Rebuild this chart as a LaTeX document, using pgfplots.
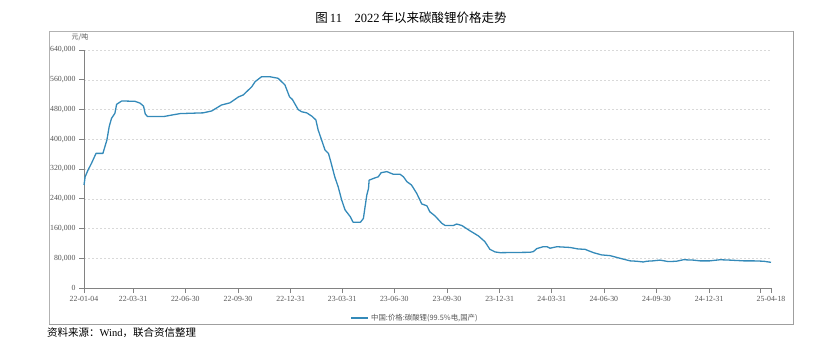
\documentclass[border=0pt]{standalone}
\usepackage{pgfplots}
\pgfplotsset{compat=1.18}
\usepackage{fontspec}
\setmainfont{Liberation Serif}
\newfontfamily\cjk{Noto Sans CJK SC}
\definecolor{lineblue}{RGB}{52,138,185}
\definecolor{axgray}{RGB}{130,130,130}
\definecolor{txtgray}{RGB}{85,85,85}
\pgfplotstableread{
x y
0 277000
2 299000
7 317000
13 335000
21 362000
33 362000
40 398000
44 434000
48 456000
54 470000
57 494000
66 503000
89 502000
98 497000
104 489000
107 468000
111 461000
139 461000
153 465000
168 469000
208 471000
223 476000
240 492000
255 498000
270 514000
278 519000
293 541000
299 555000
310 568000
325 568000
339 564000
351 546000
359 514000
364 507000
374 480000
380 474000
389 471000
398 462000
405 452000
409 425000
415 398000
421 371000
427 362000
431 340000
438 299000
444 272000
450 237000
456 210000
465 192000
470 177000
483 177000
488 187000
491 219000
494 250000
497 268000
498 290000
508 296000
514 299000
519 310000
529 313000
540 306000
552 306000
558 299000
564 286000
572 277000
581 255000
590 226000
599 221000
604 205000
613 194000
625 174000
631 168000
645 168000
651 172000
660 168000
674 154000
689 140000
700 125000
709 104000
718 97000
727 95000
779 96000
785 98000
791 106000
802 111000
809 111000
814 107000
826 111000
849 109000
863 105000
875 104000
890 95000
904 89000
919 87000
936 80000
954 73000
965 72000
977 70000
983 72000
994 73000
1006 75000
1021 71000
1035 72000
1047 76000
1064 75000
1076 73000
1093 73000
1111 76000
1128 75000
1152 73000
1169 73000
1187 72000
1200 69000
}\lithium
\begin{document}
\begin{tikzpicture}[x=1pt,y=1pt]
\useasboundingbox (0,0) rectangle (822,354);
% frame
\draw[gray!60, line width=0.8pt] (49,30) rectangle (793,323);
\draw[gray!75, line width=1.2pt] (793.4,323) -- (793.4,29.6) -- (49,29.6);
% title
\node[anchor=center, font=\fontsize{12.5}{14}\selectfont] at (411,336) {{\cjk 图}\,11\quad 2022\,{\cjk 年以来碳酸锂价格走势}};
% source
\node[anchor=west, font=\fontsize{10.5}{12}\selectfont, inner sep=0pt] at (47,21) {{\cjk 资料来源：}Wind{\cjk ，联合资信整理}};
% unit
\node[anchor=center, font=\cjk\fontsize{7}{8}\selectfont, text=txtgray] at (80,317) {元/吨};
\begin{axis}[
  at={(84pt,66pt)}, anchor=origin,
  scale only axis, width=687pt, height=238pt,
  xmin=0, xmax=1200, ymin=0, ymax=640000,
  axis x line=bottom, axis y line=left,
  axis line style={-, axgray, line width=0.6pt},
  tick align=outside, major tick length=5pt,
  tick style={axgray, line width=0.6pt},
  xtick={0,86,177,269,361,451,542,634,726,817,908,1000,1092,1182,1200},
  xticklabels={22-01-04,22-03-31,22-06-30,22-09-30,22-12-31,23-03-31,23-06-30,23-09-30,23-12-31,24-03-31,24-06-30,24-09-30,24-12-31,,25-04-18},
  ytick={0,80000,160000,240000,320000,400000,480000,560000,640000},
  scaled y ticks=false,
  yticklabel style={/pgf/number format/.cd, fixed, 1000 sep={,}, assume math mode=true},
  ticklabel style={font=\fontsize{7.8}{9}\selectfont, text=txtgray},
  xticklabel style={/pgf/number format/assume math mode=true},
  ymajorgrids, grid style={gray!30, dash pattern=on 2pt off 2pt, line width=0.5pt},
  legend style={at={(0.482,-0.126)}, anchor=center, draw=none, fill=none,
    font=\cjk\fontsize{7.4}{8}\selectfont, text=txtgray, inner sep=1pt},
  legend cell align=left,
  legend image post style={line width=1.4pt},
  clip=false,
]
\addplot[lineblue, line width=1.3pt, line join=round] table[x=x,y=y] {\lithium};
\addlegendentry{中国:价格:碳酸锂(99.5\%电,国产)}
\end{axis}
\end{tikzpicture}
\end{document}
